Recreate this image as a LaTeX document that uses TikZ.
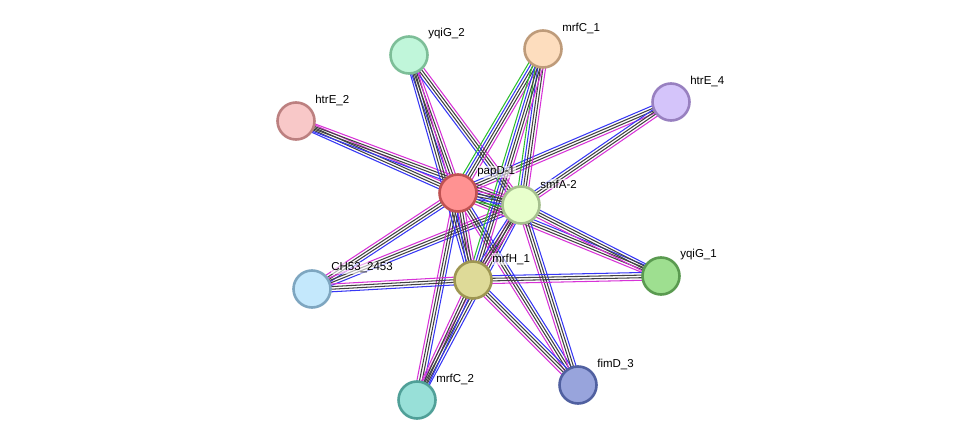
\documentclass[tikz,border=0pt]{standalone}
\usepackage{fontspec}
\setmainfont{Liberation Sans}
\usetikzlibrary{calc}
\pgfdeclarelayer{background}
\pgfsetlayers{background,main}
\definecolor{evblue}{RGB}{55,55,245}
\definecolor{evblack}{RGB}{65,65,65}
\definecolor{evmag}{RGB}{215,50,215}
\definecolor{evgreen}{RGB}{45,190,45}
% one bundle of evidence lines between two proteins
\newcommand\bundle[3]{%
  \foreach \off/\col in {#3}
    \draw[\col] ($(#1.center)!\off pt!90:(#2.center)$) -- ($(#2.center)!\off pt!-90:(#1.center)$);}
\begin{document}
\begin{tikzpicture}[x=1pt,y=-1pt,
    prot/.style={circle, minimum size=37pt, inner sep=0pt, line width=2.6pt},
    lbl/.style={anchor=west, font=\fontsize{11.5}{13}\selectfont, fill=white, fill opacity=0.6, text opacity=1, inner sep=0.8pt},
    every path/.style={line width=1.05pt}]
    \useasboundingbox (0,0) rectangle (976,446);
    % proteins
    \node[prot, fill={rgb,255:red,192;green,246;blue,218}, draw={rgb,255:red,125;green,190;blue,152}] (yqiGb) at (409,55) {};
    \node[prot, fill={rgb,255:red,253;green,221;blue,190}, draw={rgb,255:red,190;green,155;blue,122}] (mrfCa) at (543,49) {};
    \node[prot, fill={rgb,255:red,212;green,196;blue,250}, draw={rgb,255:red,152;green,128;blue,192}] (htrEd) at (671,102) {};
    \node[prot, fill={rgb,255:red,248;green,200;blue,200}, draw={rgb,255:red,188;green,128;blue,128}] (htrEb) at (296,121) {};
    \node[prot, fill={rgb,255:red,255;green,146;blue,146}, draw={rgb,255:red,192;green,82;blue,82}] (papD) at (458,193) {};
    \node[prot, fill={rgb,255:red,232;green,255;blue,204}, draw={rgb,255:red,166;green,192;blue,142}] (smfA) at (521,205) {};
    \node[prot, fill={rgb,255:red,196;green,232;blue,252}, draw={rgb,255:red,126;green,166;blue,192}] (chfs) at (312,289) {};
    \node[prot, fill={rgb,255:red,222;green,218;blue,152}, draw={rgb,255:red,158;green,150;blue,82}] (mrfH) at (473,280) {};
    \node[prot, fill={rgb,255:red,158;green,223;blue,144}, draw={rgb,255:red,90;green,154;blue,80}] (yqiGa) at (661,276) {};
    \node[prot, fill={rgb,255:red,152;green,224;blue,216}, draw={rgb,255:red,80;green,160;blue,152}] (mrfCb) at (417,400) {};
    \node[prot, fill={rgb,255:red,152;green,164;blue,220}, draw={rgb,255:red,80;green,96;blue,160}] (fimD) at (578,385) {};
    % labels
    \node[lbl] (yqiGb-t) at ([shift={(18,-21)}]yqiGb.center) {yqiG\_2};
    \node[lbl] (mrfCa-t) at ([shift={(18,-21)}]mrfCa.center) {mrfC\_1};
    \node[lbl] (htrEd-t) at ([shift={(18,-21)}]htrEd.center) {htrE\_4};
    \node[lbl] (htrEb-t) at ([shift={(18,-21)}]htrEb.center) {htrE\_2};
    \node[lbl] (papD-t) at ([shift={(18,-21)}]papD.center) {papD-1};
    \node[lbl] (smfA-t) at ([shift={(18,-21)}]smfA.center) {smfA-2};
    \node[lbl] (chfs-t) at ([shift={(18,-21)}]chfs.center) {CH53\_2453};
    \node[lbl] (mrfH-t) at ([shift={(18,-21)}]mrfH.center) {mrfH\_1};
    \node[lbl] (yqiGa-t) at ([shift={(18,-21)}]yqiGa.center) {yqiG\_1};
    \node[lbl] (mrfCb-t) at ([shift={(18,-21)}]mrfCb.center) {mrfC\_2};
    \node[lbl] (fimD-t) at ([shift={(18,-21)}]fimD.center) {fimD\_3};
    % evidence lines
    \begin{pgfonlayer}{background}
        \foreach \leaf in {yqiGb,htrEb,htrEd,chfs,yqiGa,mrfCb,fimD}
            {\bundle{\leaf}{papD}{-3.9/evblue,-1.3/evblack,1.3/evblack,3.9/evmag}
            \bundle{\leaf}{smfA}{-3.9/evblue,-1.3/evblack,1.3/evblack,3.9/evmag}}
        \foreach \leaf in {yqiGb,chfs,yqiGa,mrfCb,fimD}
            \bundle{\leaf}{mrfH}{-3.9/evblue,-1.3/evblack,1.3/evblack,3.9/evmag};
        \foreach \hub in {papD,smfA,mrfH}
            \bundle{mrfCa}{\hub}{-5.2/evgreen,-2.6/evblue,0/evblack,2.6/evblack,5.2/evmag};
        \bundle{papD}{smfA}{-5.2/evgreen,-2.6/evblue,0/evblack,2.6/evblack,5.2/evmag}
        \bundle{papD}{mrfH}{-3.9/evblue,-1.3/evblack,1.3/evblack,3.9/evmag}
        \bundle{smfA}{mrfH}{-3.9/evblue,-1.3/evblack,1.3/evblack,3.9/evmag}
    \end{pgfonlayer}
\end{tikzpicture}
\end{document}
